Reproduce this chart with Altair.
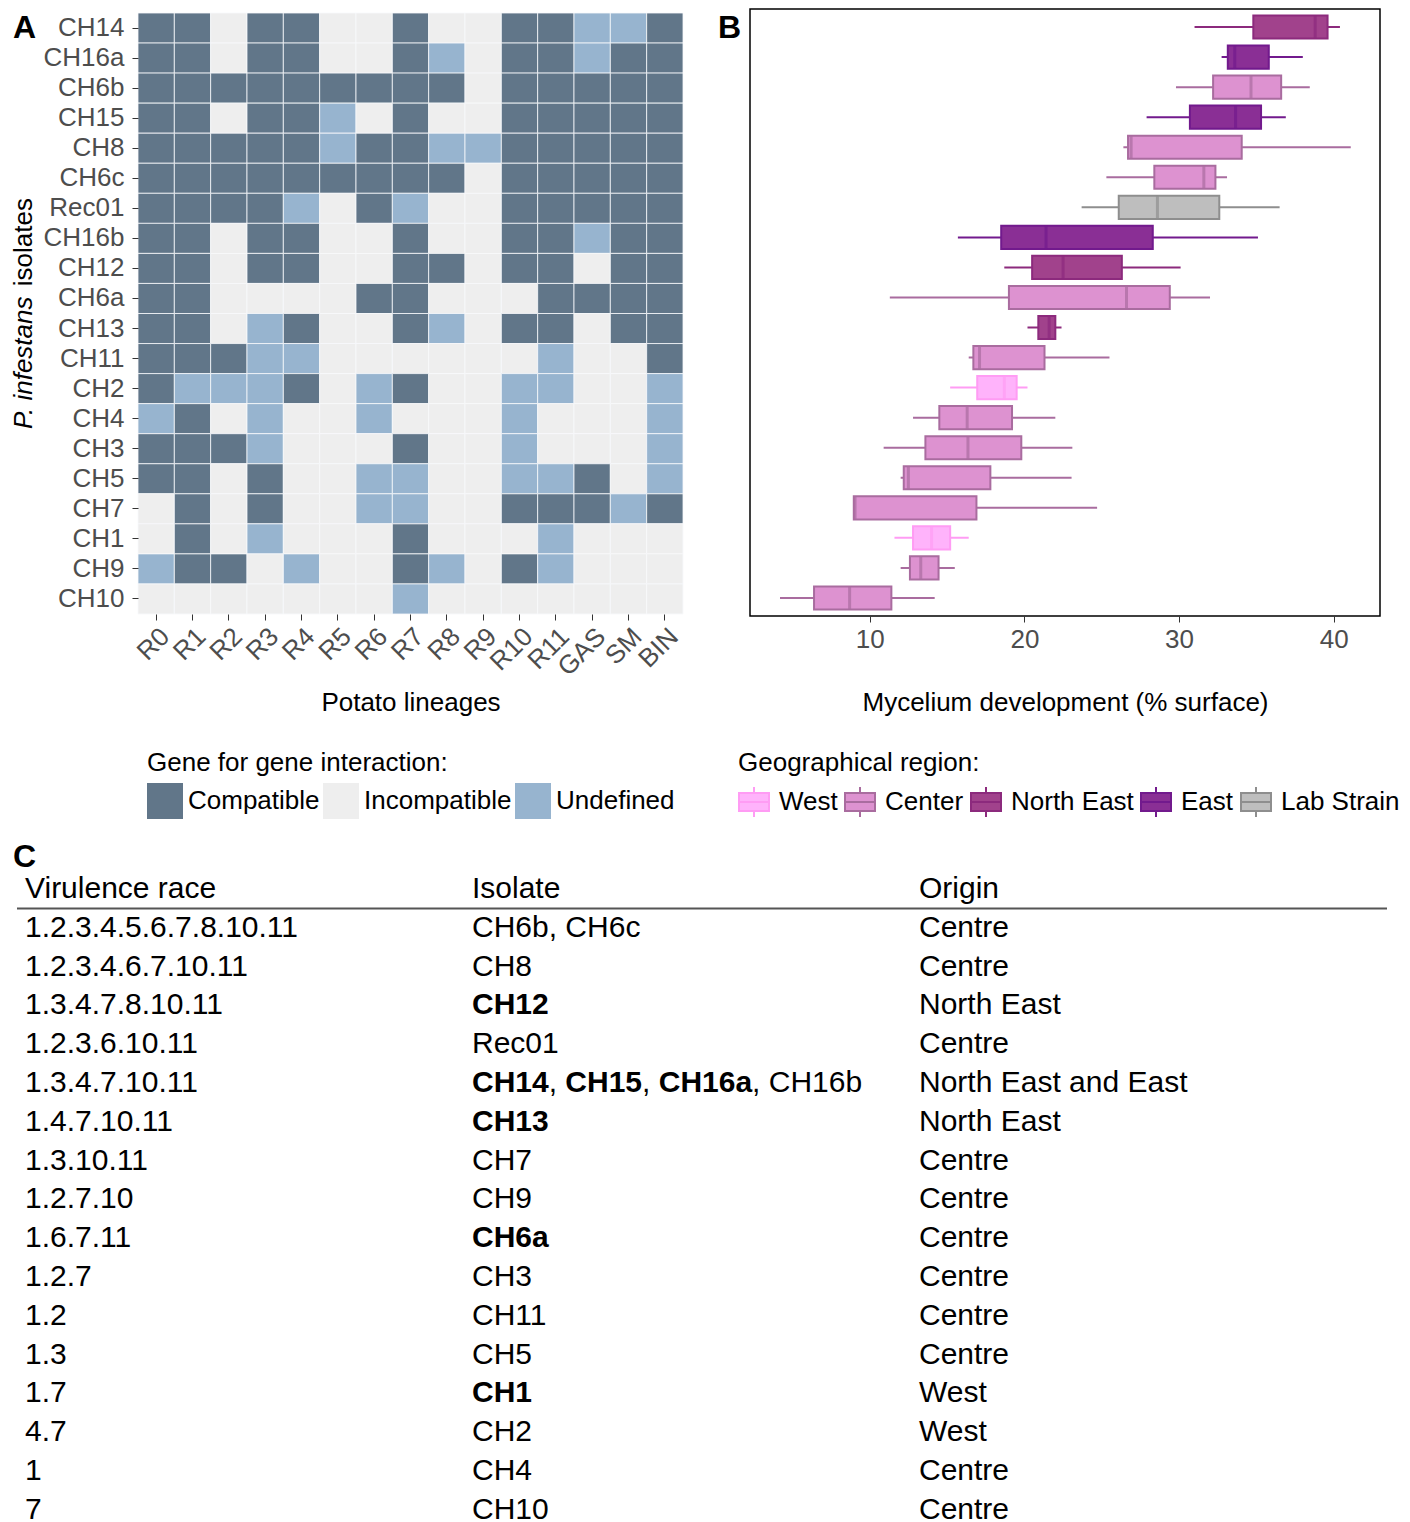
import altair as alt
import pandas as pd

FONT = "Liberation Sans"

# ---------------- Panel A data ----------------
ISOLATES = ["CH14", "CH16a", "CH6b", "CH15", "CH8", "CH6c", "Rec01", "CH16b", "CH12", "CH6a",
            "CH13", "CH11", "CH2", "CH4", "CH3", "CH5", "CH7", "CH1", "CH9", "CH10"]
LINEAGES = ["R0", "R1", "R2", "R3", "R4", "R5", "R6", "R7", "R8", "R9", "R10", "R11", "GAS", "SM", "BIN"]
# C = Compatible, I = Incompatible, U = Undefined (one letter per lineage)
INTERACTION = [
    "CCICCIICIICCUUC",  # CH14
    "CCICCIICUICCUCC",  # CH16a
    "CCCCCCCCCICCCCC",  # CH6b
    "CCICCUICIICCCCC",  # CH15
    "CCCCCUCCUUCCCCC",  # CH8
    "CCCCCCCCCICCCCC",  # CH6c
    "CCCCUICUIICCCCC",  # Rec01
    "CCICCIICIICCUCC",  # CH16b
    "CCICCIICCICCICC",  # CH12
    "CCIIIICCIIICCCC",  # CH6a
    "CCIUCIICUICCICC",  # CH13
    "CCCUUIIIIIIUIIC",  # CH11
    "CUUUCIUCIIUUIIU",  # CH2
    "UCIUIIUIIIUIIIU",  # CH4
    "CCCUIIICIIUIIIU",  # CH3
    "CCICIIUUIIUUCIU",  # CH5
    "ICICIIUUIICCCUC",  # CH7
    "ICIUIIICIIIUIII",  # CH1
    "UCCIUIICUICUIII",  # CH9
    "IIIIIIIUIIIIIII",  # CH10
]
CODE = {"C": "Compatible", "I": "Incompatible", "U": "Undefined"}
INTER_LEVELS = ["Compatible", "Incompatible", "Undefined"]
INTER_COLORS = ["#617689", "#EEEEEE", "#97B4CF"]

# ---------------- Panel B data ----------------
WHISK_LO = [31.0, 32.75, 29.8, 27.9, 26.4, 25.3, 23.7, 15.7, 18.7, 11.3,
            20.2, 16.4, 15.2, 12.8, 10.9, 12.0, 8.97, 11.6, 12.0, 4.2]
Q1 = [34.8, 33.15, 32.2, 30.7, 26.7, 28.4, 26.1, 18.5, 20.5, 19.0,
      20.9, 16.7, 16.95, 14.5, 13.6, 12.2, 8.97, 12.8, 12.6, 6.4]
MEDIAN = [38.8, 33.6, 34.65, 33.65, 26.9, 31.6, 28.6, 21.4, 22.5, 26.6,
          21.6, 17.1, 18.7, 16.3, 16.35, 12.5, 9.05, 14.0, 13.3, 8.7]
Q3 = [39.6, 35.8, 36.6, 35.3, 34.05, 32.35, 32.6, 28.3, 26.3, 29.4,
      22.0, 21.3, 19.5, 19.2, 19.8, 17.8, 16.9, 15.2, 14.45, 11.4]
WHISK_HI = [40.4, 38.0, 38.45, 36.9, 41.1, 33.1, 36.5, 35.1, 30.1, 32.0,
            22.4, 25.5, 20.2, 22.0, 23.1, 23.05, 24.7, 16.4, 15.5, 14.2]
REGION = ["North East", "East", "Center", "East", "Center", "Center", "Lab Strain", "East", "North East", "Center",
          "North East", "Center", "West", "Center", "Center", "Center", "Center", "West", "Center", "Center"]
REGIONS = ["West", "Center", "North East", "East", "Lab Strain"]
REGION_FILL = ["#FFB3FB", "#DD92D0", "#A1428C", "#8A2F95", "#BEBEBE"]
REGION_LINE = ["#FF9CF4", "#A96C9F", "#8C2A7D", "#721A8D", "#8E8E8E"]

# ---------------- Panel C data ----------------
HEADER = ["Virulence race", "Isolate", "Origin"]
RACES = ["1.2.3.4.5.6.7.8.10.11", "1.2.3.4.6.7.10.11", "1.3.4.7.8.10.11", "1.2.3.6.10.11",
         "1.3.4.7.10.11", "1.4.7.10.11", "1.3.10.11", "1.2.7.10", "1.6.7.11", "1.2.7",
         "1.2", "1.3", "1.7", "4.7", "1", "7"]
TABLE_ISOLATES = ["CH6b, CH6c", "CH8", "**CH12**", "Rec01", "**CH14**, **CH15**, **CH16a**, CH16b",
                  "**CH13**", "CH7", "CH9", "**CH6a**", "CH3", "CH11", "CH5", "**CH1**", "CH2", "CH4", "CH10"]
ORIGINS = ["Centre", "Centre", "North East", "Centre", "North East and East", "North East", "Centre",
           "Centre", "Centre", "Centre", "Centre", "Centre", "West", "West", "Centre", "Centre"]

# ---------------- layout constants ----------------
A_W, A_H = 545, 605
B_W, B_H = 630, 607
TAB_W_FULL = 1370
TAB_FONT = 30
ROW_STEP = 38.8
COL_START = [8, 455, 902]
TAB_LEFT = -121     # table left edge, relative to panel-A plot left
TAB_TOP = 860.6     # table top edge, relative to panel-A plot top


def text_label(text, x, y, size, weight="normal", style="normal", angle=0, align="left", baseline="alphabetic"):
    return alt.Chart(alt.Data(values=[{}])).mark_text(
        text=text, fontSize=size, fontWeight=weight, fontStyle=style, angle=angle,
        align=align, baseline=baseline, font=FONT, color="black"
    ).encode(x=alt.value(x), y=alt.value(y))


# ---------------- Panel A ----------------
heat_df = pd.DataFrame([
    {"isolate": iso, "lineage": lin, "interaction": CODE[ch]}
    for iso, row in zip(ISOLATES, INTERACTION) for lin, ch in zip(LINEAGES, row)
])

heat = alt.Chart(heat_df).mark_rect(stroke="#F7F9FB", strokeWidth=0.8).encode(
    x=alt.X("lineage:N", sort=LINEAGES, scale=alt.Scale(paddingInner=0, paddingOuter=0),
            axis=alt.Axis(title="Potato lineages", labelAngle=-45, labelAlign="right", labelBaseline="top",
                          labelFontSize=26, labelColor="#4D4D4D", tickColor="#333333", tickSize=6,
                          domain=False, labelPadding=3, titleFontSize=26, titleFontWeight="normal",
                          titleColor="black", titleY=96, titleBaseline="alphabetic")),
    y=alt.Y("isolate:N", sort=ISOLATES, scale=alt.Scale(range=[4, A_H], paddingInner=0, paddingOuter=0),
            axis=alt.Axis(title=None, labelFontSize=26, labelColor="#4D4D4D", tickColor="#333333",
                          tickSize=6, domain=False, labelPadding=8)),
    color=alt.Color("interaction:N", scale=alt.Scale(domain=INTER_LEVELS, range=INTER_COLORS),
                    legend=alt.Legend(title="Gene for gene interaction:", orient="none", legendX=9, legendY=741,
                                      direction="horizontal", symbolType="square", symbolSize=1296,
                                      symbolStrokeWidth=0, labelFontSize=26, labelColor="black",
                                      titleFontSize=26, titleFontWeight="normal", titleColor="black",
                                      titleLimit=800, labelLimit=400,
                                      labelOffset=5, columnPadding=3, titlePadding=7, padding=0)),
)

# ---------------- Panel C (drawn below panel A, spanning the page) ----------------
REG_W = {"C": 722, "H": 722, "R": 722, "a": 556, "b": 556, "c": 500, "e": 556, ",": 278, " ": 278, ".": 278}
BOLD_W = {"C": 722, "H": 722, "R": 722, "a": 556, "b": 611, "c": 556, "e": 556, ",": 278, " ": 278, ".": 278}


def text_width(s, bold):
    table = BOLD_W if bold else REG_W
    return sum(table.get(ch, 556) for ch in s) * TAB_FONT / 1000.0


table_rows = []
for r, cells in enumerate([HEADER] + [list(t) for t in zip(RACES, TABLE_ISOLATES, ORIGINS)]):
    for c, cell in enumerate(cells):
        offset = 0.0
        for k, seg in enumerate(cell.split("**")):
            if not seg:
                continue
            bold = (k % 2 == 1)
            table_rows.append({"row": r, "xpos": COL_START[c] + offset, "text": seg,
                               "weight": "bold" if bold else "normal"})
            offset += text_width(seg, bold)
table_df = pd.DataFrame(table_rows)
n_rows = len(RACES) + 1

tab_x = alt.X("xpos:Q", axis=None, scale=alt.Scale(domain=[0, TAB_W_FULL],
                                                     range=[TAB_LEFT, TAB_LEFT + TAB_W_FULL]))
tab_y = alt.Y("row:O", axis=None, scale=alt.Scale(paddingInner=0, paddingOuter=0,
                                                   range=[TAB_TOP, TAB_TOP + ROW_STEP * n_rows]))
tab_base = alt.Chart(table_df)
tab_normal = tab_base.transform_filter(alt.datum.weight == "normal").mark_text(
    align="left", baseline="middle", fontSize=TAB_FONT, font=FONT, color="black"
).encode(x=tab_x, y=tab_y, text="text:N")
tab_bold = tab_base.transform_filter(alt.datum.weight == "bold").mark_text(
    align="left", baseline="middle", fontSize=TAB_FONT, font=FONT, fontWeight="bold", color="black"
).encode(x=tab_x, y=tab_y, text="text:N")
table_layer = alt.layer(tab_normal, tab_bold)

header_line = alt.Chart(alt.Data(values=[{}])).mark_rule(color="#555555", strokeWidth=2).encode(
    x=alt.value(TAB_LEFT), x2=alt.value(TAB_LEFT + TAB_W_FULL), y=alt.value(TAB_TOP + ROW_STEP))

panel_a = alt.layer(
    heat,
    table_layer,
    header_line,
    text_label("P. infestans", -114, 420, 26, style="italic", angle=270, align="left", baseline="middle"),
    text_label("isolates", -114, 189, 26, angle=270, align="right", baseline="middle"),
    text_label("A", -125, 29, 32, weight="bold"),
    text_label("C", -125, TAB_TOP - 3, 32, weight="bold"),
).resolve_scale(x="independent", y="independent").properties(width=A_W, height=A_H)

# ---------------- Panel B ----------------
box_df = pd.DataFrame({"isolate": ISOLATES, "lo": WHISK_LO, "q1": Q1, "med": MEDIAN,
                       "q3": Q3, "hi": WHISK_HI, "region": REGION})

x_scale = alt.Scale(domain=[2.26, 42.99], nice=False, zero=False)
y_b = alt.Y("isolate:N", sort=ISOLATES, axis=None, scale=alt.Scale(paddingInner=0.23, paddingOuter=0.215))
fill_scale = alt.Scale(domain=REGIONS, range=REGION_FILL)
line_scale = alt.Scale(domain=REGIONS, range=REGION_LINE)
box_legend = alt.Legend(title="Geographical region:", orient="none", legendX=-12, legendY=741,
                        direction="horizontal",
                        symbolType="M-1,-0.6L1,-0.6L1,0.6L-1,0.6Z M-1,0L1,0 M0,-1L0,-0.6 M0,0.6L0,1",
                        symbolSize=900, symbolStrokeWidth=2, labelFontSize=26, labelColor="black",
                        titleFontSize=26, titleFontWeight="normal", titleColor="black",
                        titleLimit=800, labelLimit=400,
                        labelOffset=9, columnPadding=3, titlePadding=10, padding=0)

base_b = alt.Chart(box_df)
whiskers = base_b.mark_rule(strokeWidth=2).encode(
    x=alt.X("lo:Q", scale=x_scale,
            axis=alt.Axis(values=[10, 20, 30, 40], format="d", title="Mycelium development (% surface)",
                          labelFontSize=26, labelColor="#4D4D4D", tickColor="#333333", tickSize=6,
                          domain=False, grid=False, labelPadding=4, titleFontSize=26,
                          titleFontWeight="normal", titleColor="black", titleY=94,
                          titleBaseline="alphabetic")),
    x2="hi:Q",
    y=y_b,
    stroke=alt.Stroke("region:N", scale=line_scale, legend=box_legend),
)
boxes = base_b.mark_bar(strokeWidth=2).encode(
    x=alt.X("q1:Q", scale=x_scale),
    x2="q3:Q",
    y=y_b,
    fill=alt.Fill("region:N", scale=fill_scale, legend=box_legend),
    stroke=alt.Stroke("region:N", scale=line_scale, legend=box_legend),
)
medians = base_b.mark_tick(thickness=3, size=23).encode(
    x=alt.X("med:Q", scale=x_scale),
    y=y_b,
    color=alt.Color("region:N", scale=alt.Scale(domain=REGIONS, range=REGION_LINE), legend=None),
)

panel_b = alt.layer(
    whiskers, boxes, medians,
    text_label("B", -32, 29, 32, weight="bold"),
).properties(width=B_W, height=B_H, view=alt.ViewBackground(stroke="black", strokeWidth=1.5))

chart = alt.hconcat(panel_a, panel_b, spacing=67, bounds="flush").resolve_scale(
    color="independent", fill="independent", stroke="independent"
).configure(
    font=FONT, padding={"left": 3, "top": 0, "right": 0, "bottom": 0}
).configure_view(stroke=None)

chart.save("out.html", embed_options={"renderer": "svg", "actions": False})
